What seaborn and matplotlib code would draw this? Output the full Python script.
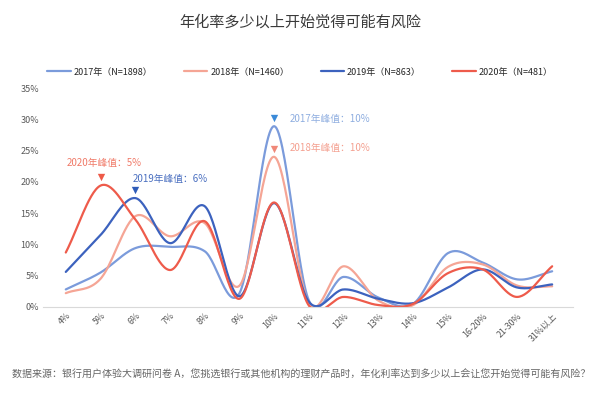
import numpy as np
import pandas as pd
import seaborn as sns
import matplotlib.pyplot as plt

categories = ['4%', '5%', '6%', '7%', '8%', '9%', '10%', '11%', '12%', '13%',
              '14%', '15%', '16-20%', '21-30%', '31%以上']
y2017 = [2.8, 5.5, 9.4, 9.6, 8.9, 2.2, 28.9, 1.0, 4.8, 1.5, 0.5, 8.6, 7.1, 4.4, 5.7]
y2018 = [2.2, 4.5, 14.5, 11.3, 13.4, 3.4, 24.0, 0.5, 6.5, 1.0, 0.3, 6.4, 6.8, 3.4, 3.3]
y2019 = [5.6, 11.5, 17.4, 10.2, 16.1, 1.7, 16.6, 0.8, 2.8, 1.3, 0.6, 3.1, 6.0, 3.1, 3.6]
y2020 = [8.7, 19.4, 14.0, 5.9, 13.7, 1.3, 16.7, 0.2, 1.6, 0.3, 0.5, 5.4, 6.0, 1.6, 6.5]
series_names = ['2017年（N=1898）', '2018年（N=1460）', '2019年（N=863）', '2020年（N=481）']
colors = ['#7b9bdb', '#f5a595', '#3c62be', '#ee5b4b']


def smooth(vals, n=30):
    # Catmull-Rom curve through the points, like the smoothed lines in the original
    p = np.array(vals, float)
    ext = np.concatenate([[2 * p[0] - p[1]], p, [2 * p[-1] - p[-2]]])
    xs, ys = [], []
    t = np.linspace(0, 1, n, endpoint=False)
    for i in range(len(p) - 1):
        p0, p1, p2, p3 = ext[i:i + 4]
        yy = 0.5 * (2 * p1 + (-p0 + p2) * t + (2 * p0 - 5 * p1 + 4 * p2 - p3) * t ** 2
                    + (-p0 + 3 * p1 - 3 * p2 + p3) * t ** 3)
        xs.extend(i + t)
        ys.extend(yy)
    xs.append(len(p) - 1)
    ys.append(p[-1])
    return np.array(xs), np.array(ys)


rows = []
for name, vals in zip(series_names, [y2017, y2018, y2019, y2020]):
    xs, ys = smooth(vals)
    rows.append(pd.DataFrame({'x': xs, 'y': ys, 'series': name}))
df = pd.concat(rows, ignore_index=True)

sns.set_style('white')
plt.rcParams['font.family'] = ['Noto Sans CJK SC', 'DejaVu Sans']

fig = plt.figure(figsize=(6, 3.93), dpi=100)
ax = fig.add_axes([0.072, 0.219, 0.883, 0.557])

sns.lineplot(data=df, x='x', y='y', hue='series', palette=colors, sort=False,
             estimator=None, linewidth=1.6, ax=ax)

ax.set_xlim(-0.65, 14.6)
ax.set_ylim(0, 35)
ax.set_yticks(range(0, 36, 5))
ax.set_yticklabels([f'{v}%' for v in range(0, 36, 5)], fontsize=6.5, color='#595959')
ax.set_xticks(range(len(categories)))
ax.set_xticklabels(categories, rotation=45, ha='right', rotation_mode='anchor',
                   fontsize=6.3, color='#595959')
ax.tick_params(axis='both', length=0, pad=3)
ax.set_xlabel('')
ax.set_ylabel('')
for s in ['top', 'right', 'left']:
    ax.spines[s].set_visible(False)
ax.spines['bottom'].set_color('#d9d9d9')
ax.spines['bottom'].set_linewidth(0.8)

# peak markers and notes
peaks = [(6, y2017[6], '#3b8ad8', '#8faee0', '2017年峰值：10%', 6.43, 30.0, 'left'),
         (6, y2018[6], '#f08878', '#f4a090', '2018年峰值：10%', 6.43, 25.4, 'left'),
         (2, y2019[2], '#2f5cb8', '#4a6fc0', '2019年峰值：6%', 1.93, 20.5, 'left'),
         (1, y2020[1], '#ee5a48', '#f07a68', '2020年峰值：5%', 1.1, 23.0, 'center')]
for i, v, mc, tc, label, tx, ty, ha in peaks:
    ax.scatter([i], [v + 1.3], marker='v', s=28, color=mc, zorder=5, linewidths=0)
    ax.text(tx, ty, label, color=tc, fontsize=7, ha=ha, va='center')

handles, labels = ax.get_legend_handles_labels()
ax.legend(handles, labels, ncol=4, loc='center', bbox_to_anchor=(0.5, 1 - 72 / 393),
          bbox_transform=fig.transFigure, frameon=False, fontsize=6.5,
          handlelength=2.6, handletextpad=0.3, columnspacing=3.5)

fig.text(0.5, 1 - 22 / 393, '年化率多少以上开始觉得可能有风险', ha='center', va='center',
         fontsize=10.9, color='#3a3a3a')
fig.text(0.02, 1 - 375 / 393,
         '数据来源：银行用户体验大调研问卷 A，您挑选银行或其他机构的理财产品时，年化利率达到多少以上会让您开始觉得可能有风险？',
         ha='left', va='center', fontsize=7.2, color='#666666')

fig.savefig('out.png', dpi=100)
